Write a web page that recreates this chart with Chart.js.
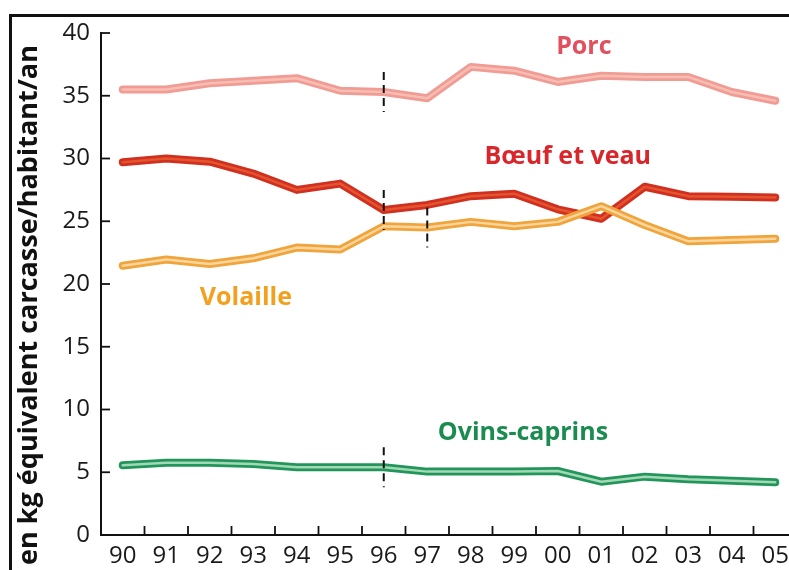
<!DOCTYPE html>
<html>
<head>
<meta charset="utf-8">
<script src="https://cdn.jsdelivr.net/npm/chart.js@4.4.1/dist/chart.umd.min.js"></script>
<style>
  html, body { margin: 0; padding: 0; background: #fff; overflow: hidden; width: 789px; height: 570px; }
  #wrap { position: absolute; left: 0; top: 0; width: 820px; height: 570px; }
  #frame { position: absolute; left: 9px; top: 14px; width: 900px; height: 700px; border-left: 3px solid #111; border-top: 3px solid #111; pointer-events: none; }
</style>
</head>
<body>
<div id="wrap"><canvas id="c" width="820" height="570"></canvas></div>
<div id="frame"></div>
<script>
// ---- data ----
const years = ['90','91','92','93','94','95','96','97','98','99','00','01','02','03','04','05'];
const porc     = [35.5, 35.5, 36.0, 36.2, 36.4, 35.4, 35.3, 34.8, 37.3, 37.0, 36.1, 36.6, 36.5, 36.5, 35.3, 34.6];
const boeuf    = [29.7, 30.0, 29.75, 28.8, 27.5, 28.0, 25.9, 26.3, 27.0, 27.2, 25.95, 25.2, 27.75, 27.0, 26.95, 26.9];
const volaille = [21.45, 21.95, 21.6, 22.05, 22.9, 22.75, 24.6, 24.5, 24.95, 24.6, 24.95, 26.2, 24.7, 23.4, 23.5, 23.6];
const ovins    = [5.55, 5.75, 5.75, 5.65, 5.4, 5.4, 5.4, 5.05, 5.05, 5.05, 5.1, 4.25, 4.65, 4.45, 4.33, 4.2];
const seriesNames = ['Porc', 'Bœuf et veau', 'Volaille', 'Ovins-caprins'];
const yTicks = [0, 5, 10, 15, 20, 25, 30, 35, 40];
const yTitle = 'en kg équivalent carcasse/habitant/an';
// series breaks (dashed markers): [category, series index]
const breaks = [['96', 0], ['96', 1], ['97', 2], ['96', 3]];
// label anchors in data units: [category position (index), value]
const labelAnchors = [[10.6, 38.9], [10.23, 30.1], [2.83, 18.9], [9.2, 8.1]];

const seriesData = [porc, boeuf, volaille, ovins];
const outerColors = ['#f09c94', '#d0301f', '#f0a43c', '#22965a'];
const innerColors = ['#f7bcb2', '#e5532f', '#fbd59c', '#a2d8b6'];
const textColors  = ['#e0505e', '#d8262a', '#f2a01e', '#1b8c50'];

const datasets = [];
seriesData.forEach((d, i) => {
  datasets.push({ label: seriesNames[i], data: d, borderColor: outerColors[i], borderWidth: 8,
    pointRadius: 0, tension: 0, borderJoinStyle: 'round', borderCapStyle: 'round', order: 10 + (4 - i) * 2 + 1 });
  datasets.push({ label: seriesNames[i] + ' ', data: d, borderColor: innerColors[i], borderWidth: 2.5,
    pointRadius: 0, tension: 0, borderJoinStyle: 'round', borderCapStyle: 'round', order: 10 + (4 - i) * 2 });
});

const FONT = '"Open Sans", "Noto Sans", sans-serif';

const decor = {
  id: 'decor',
  afterDatasetsDraw(chart) {
    const ctx = chart.ctx, x = chart.scales.x, y = chart.scales.y, a = chart.chartArea;
    ctx.save();
    // dashed break markers
    ctx.strokeStyle = '#111'; ctx.lineWidth = 2; ctx.setLineDash([8, 5]);
    breaks.forEach(([cat, si]) => {
      const idx = years.indexOf(cat);
      const px = x.getPixelForValue(idx);
      const py = y.getPixelForValue(seriesData[si][idx]);
      ctx.beginPath(); ctx.moveTo(px, py - 20); ctx.lineTo(px, py + 20); ctx.stroke();
    });
    ctx.setLineDash([]);
    // inward tick marks
    ctx.lineWidth = 1.8;
    yTicks.forEach(v => {
      const py = y.getPixelForValue(v);
      ctx.beginPath(); ctx.moveTo(a.left, py); ctx.lineTo(a.left + 9, py); ctx.stroke();
    });
    const half = (x.getPixelForValue(1) - x.getPixelForValue(0)) / 2;
    for (let i = 0; i < years.length; i++) {
      const px = x.getPixelForValue(i) + half;
      ctx.beginPath(); ctx.moveTo(px, a.bottom); ctx.lineTo(px, a.bottom - 9); ctx.stroke();
    }
    // series labels
    ctx.font = 'bold 25px ' + FONT; ctx.textAlign = 'center'; ctx.textBaseline = 'middle';
    labelAnchors.forEach(([pos, val], i) => {
      const i0 = Math.floor(pos), f = pos - i0;
      const px = x.getPixelForValue(i0) + f * (x.getPixelForValue(i0 + 1) - x.getPixelForValue(i0));
      ctx.fillStyle = textColors[i];
      ctx.fillText(seriesNames[i], px, y.getPixelForValue(val));
    });
    // y axis title
    ctx.fillStyle = '#111'; ctx.font = 'bold 27px ' + FONT;
    ctx.translate(29, (a.top + a.bottom) / 2 + 21);
    ctx.rotate(-Math.PI / 2);
    ctx.fillText(yTitle, 0, 0);
    ctx.restore();
  }
};

new Chart(document.getElementById('c'), {
  type: 'line',
  data: { labels: years, datasets },
  options: {
    responsive: false, animation: false,
    layout: { padding: { left: 0, top: 33, right: 23, bottom: 0 } },
    plugins: { legend: { display: false }, tooltip: { enabled: false } },
    scales: {
      x: {
        offset: true,
        grid: { display: false, offset: true, drawTicks: false },
        border: { display: true, color: '#111', width: 2 },
        ticks: { color: '#1a1a1a', font: { family: FONT, size: 24 }, padding: 7, maxRotation: 0, autoSkip: false },
        afterFit(s) { s.height = 35; }
      },
      y: {
        min: 0, max: 40,
        grid: { display: false, drawTicks: false },
        border: { display: true, color: '#111', width: 2 },
        ticks: { stepSize: 5, color: '#1a1a1a', font: { family: FONT, size: 24 }, padding: 11 },
        afterFit(s) { s.width = 101; }
      }
    }
  },
  plugins: [decor]
});
</script>
</body>
</html>
